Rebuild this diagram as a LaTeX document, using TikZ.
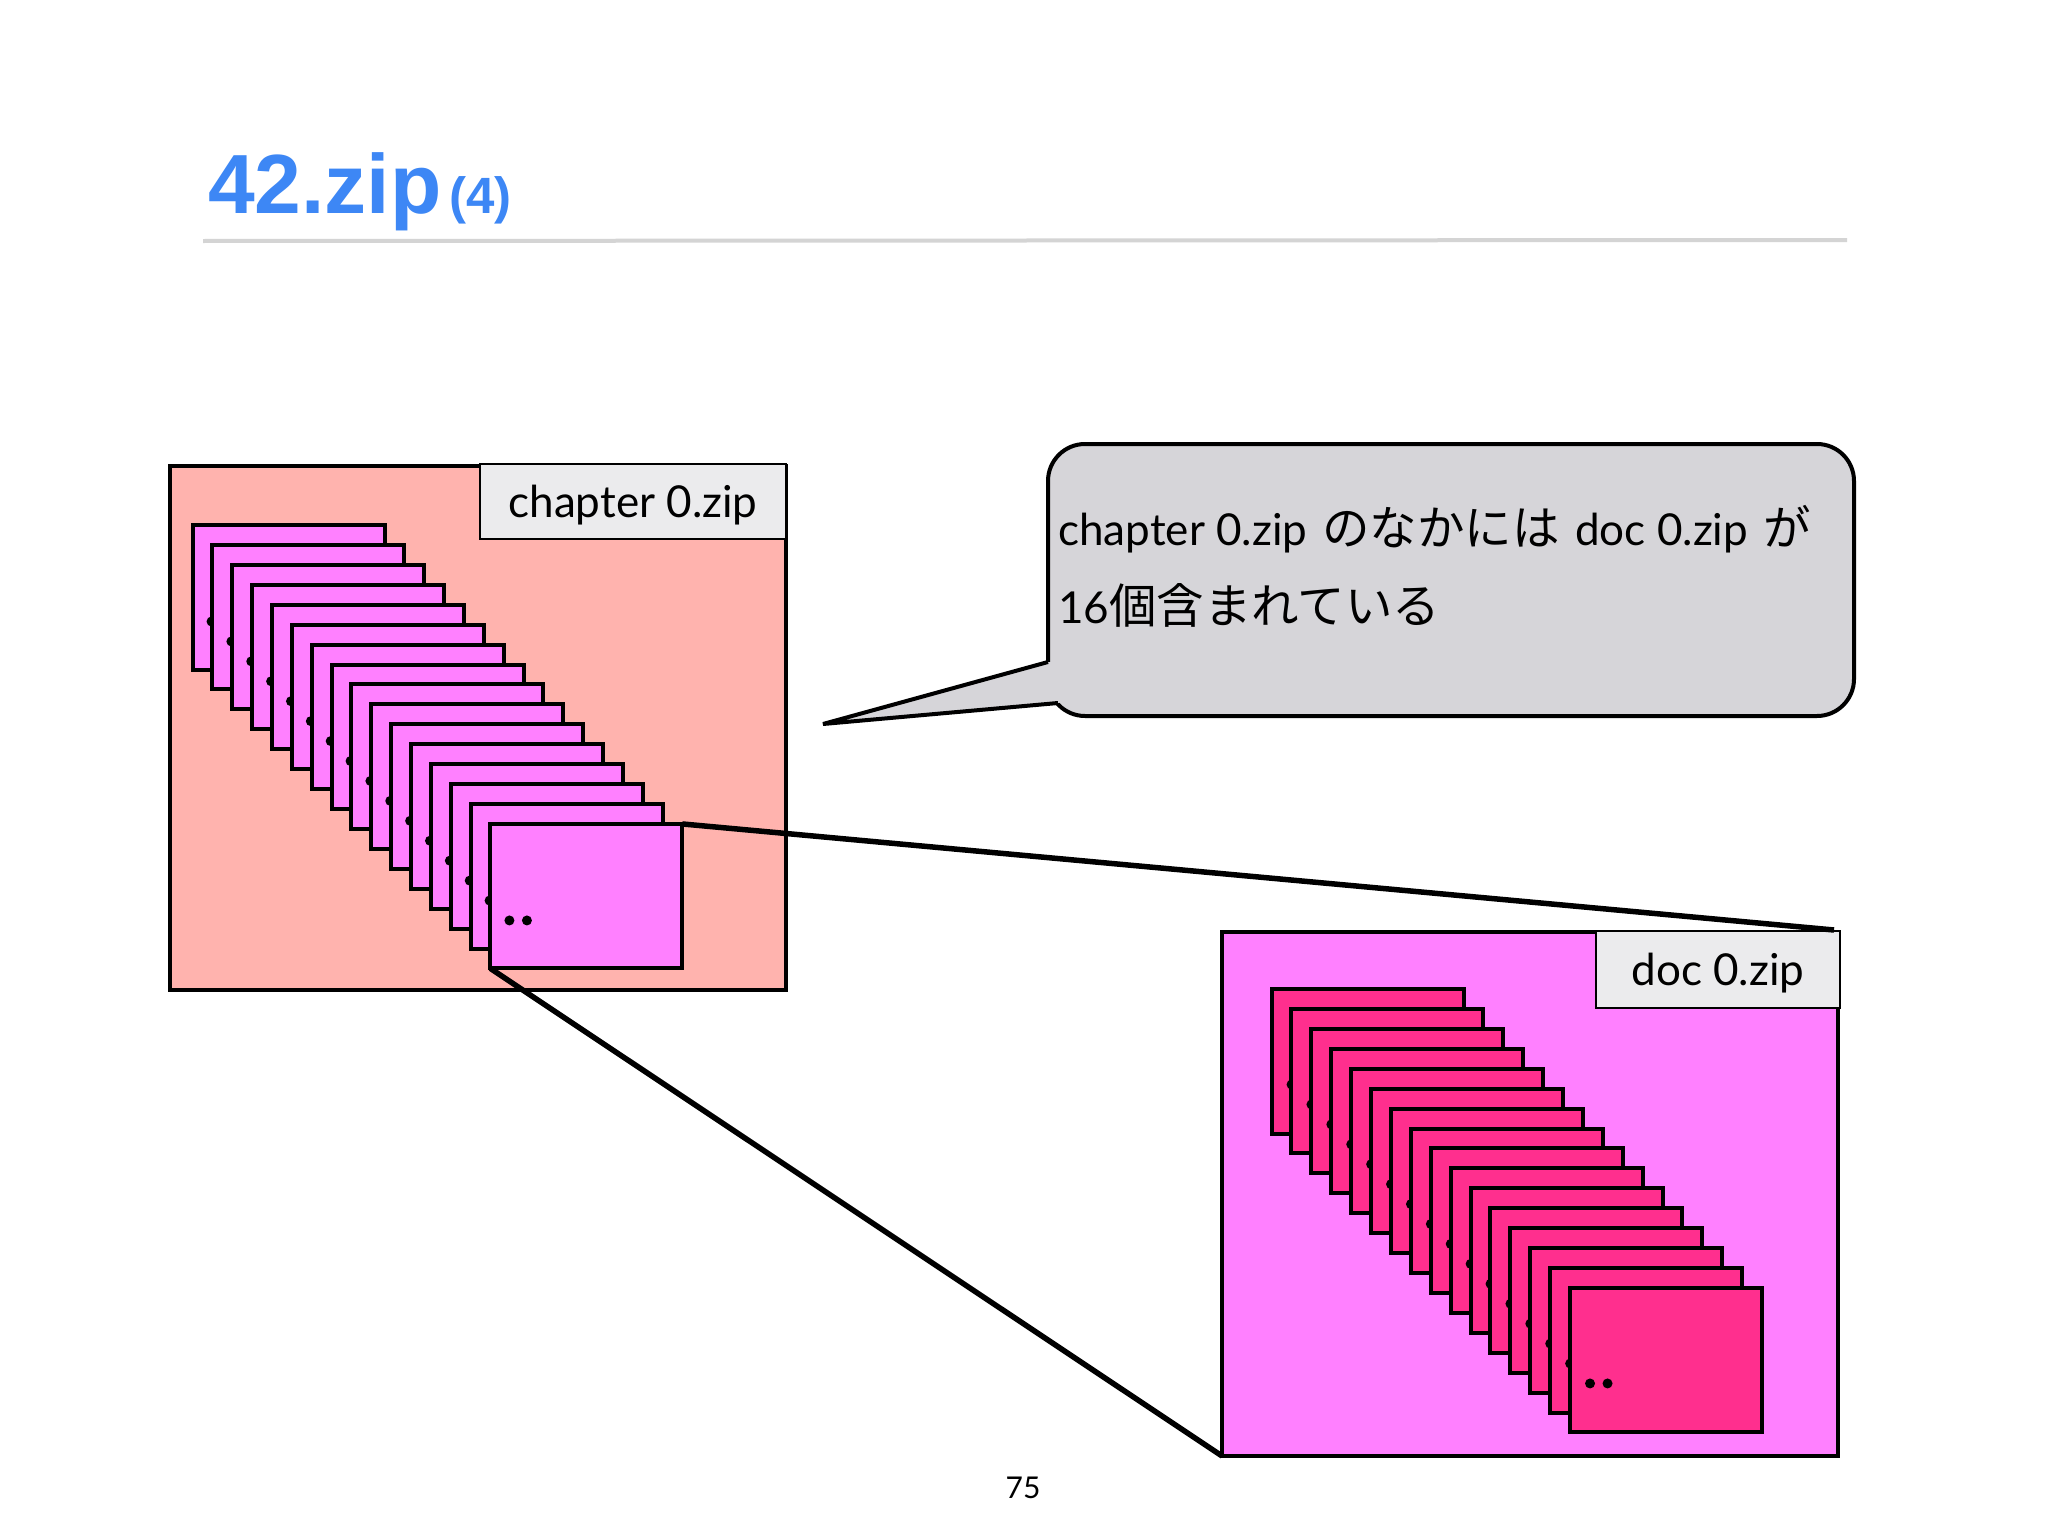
\documentclass[tikz,border=0pt]{standalone}
\usepackage{fontspec}
\usepackage{xcolor}
\usepackage{tikz}
\usetikzlibrary{positioning}
\setmainfont{Lato}
\newfontfamily\cjk{Noto Sans CJK JP}
\newfontfamily\helv{Liberation Sans}
\definecolor{salmonbox}{HTML}{FFB3AE}
\definecolor{magentabox}{HTML}{FF80FF}
\definecolor{pinkbox}{HTML}{FF2F8E}
\definecolor{bubblegray}{HTML}{D6D5D9}
\definecolor{taggray}{HTML}{EBEBED}
\definecolor{titleblue}{HTML}{3D87F5}

\begin{document}
\begin{tikzpicture}[x=1pt,y=-1pt]
            \tikzstyle{zipbox} = [draw, rectangle, line width=4pt, inner sep=0, outer sep=0, minimum width=616pt, minimum height=524pt, anchor=north west]
            \tikzstyle{chapcard} = [draw, rectangle, fill=magentabox, line width=4pt, inner sep=0, outer sep=0, minimum width=192pt, minimum height=144.5pt]
            \tikzstyle{doccard} = [chapcard, fill=pinkbox]
            \tikzstyle{tag} = [draw, rectangle, fill=taggray, inner sep=0, outer sep=0, anchor=north east, text height=31pt, text depth=0pt, font=\fontsize{44}{44}\selectfont]

            \useasboundingbox [fill=white] (0,0) rectangle (2048,1536);

            \node [anchor=base west, text=titleblue, inner sep=0, font=\helv\bfseries\fontsize{84}{84}\selectfont] (title) at (208,213) {42.zip};
            \node [text=titleblue, inner sep=0, font=\helv\bfseries\fontsize{51}{51}\selectfont, right = 7pt of title.base east, anchor=base west] (part) {(4)};
            \coordinate (ruleleft) at (203,241);
            \coordinate (ruleright) at (1847,240);
            \draw [line width=4pt, color=black!17] (ruleleft) -- (ruleright);

            \node [zipbox, fill=salmonbox] (chapter) at (170,466) {};
            \node [tag, line width=2.5pt, minimum width=306pt, minimum height=75pt] (chaptertag) at (786,464) {chapter 0.zip};

            \coordinate (chap0) at (172.67,505.07);
            \foreach \n [remember=\n as \prev (initially 0)] in {1,...,16} {
                \node [chapcard, on grid, below right = 19.93pt and 19.86pt of chap\prev] (chap\n) {};
                \fill (chap\n.south west) ++(19,-48) circle (5) ++(17.5,0) circle (5);
            }

            \node [zipbox, fill=magentabox] (doc) at (1222,932) {};
            \node [tag, line width=1.5pt, minimum width=244pt, minimum height=77pt] (doctag) at (1840,931) {doc 0.zip};

            \coordinate (doc0) at (1251.63,969.07);
            \foreach \n [remember=\n as \prev (initially 0)] in {1,...,16} {
                \node [doccard, on grid, below right = 19.93pt and 19.9pt of doc\prev] (doc\n) {};
                \fill (doc\n.south west) ++(20,-49) circle (5) ++(17.5,0) circle (5);
            }

            \coordinate (docend) at (1834,930);
            \draw [line width=5.5pt] (chap16.north east) -- (docend);
            \draw [line width=5.5pt] (chap16.south west) -- (doc.south west);

            % speech bubble
            \node [draw, rectangle, rounded corners=37pt, fill=bubblegray, line width=4pt, inner sep=0, outer sep=0, minimum width=806pt, minimum height=272pt, anchor=north west] (bubble) at (1048,444) {};
            \coordinate (tip) at (823,724);
            \coordinate (tipup) at (1048,662);
            \coordinate (tipdown) at (1058,703);
            \fill [bubblegray] (tip) -- (tipup) -- (1075,662) -- (1075,700) -- (tipdown) -- cycle;
            \draw [line width=4pt, line join=miter] (tipup) -- (tip) -- (tipdown);
            \node [anchor=base west, inner sep=0, align=left, font=\fontsize{44}{78}\selectfont] (note) at (1058,623)
                {chapter 0.zip\hspace{4pt} {\cjk\fontsize{47.5}{78}\selectfont のなかには}\hspace{4pt} doc 0.zip\hspace{4pt} {\cjk\fontsize{47.5}{78}\selectfont が}\\
                 16{\cjk\fontsize{47.5}{78}\selectfont 個含まれている}};

            \node [inner sep=0, font=\fontsize{30}{30}\selectfont] (pagenum) at (1023,1488) {75};
\end{tikzpicture}
\end{document}
